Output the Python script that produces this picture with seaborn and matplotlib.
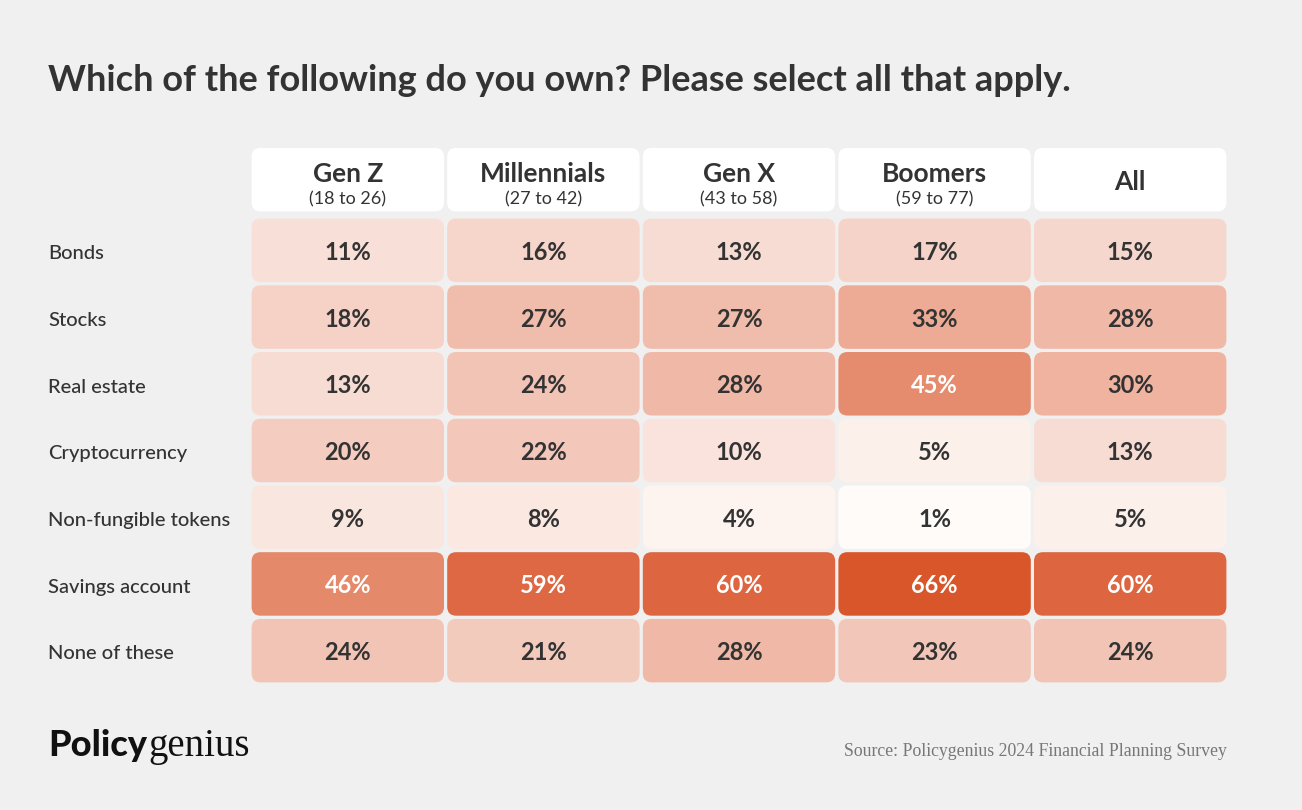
import numpy as np
import pandas as pd
import matplotlib
matplotlib.use("Agg")
import matplotlib.pyplot as plt
import seaborn as sns
from matplotlib.colors import LinearSegmentedColormap
from matplotlib.patches import FancyBboxPatch

# data
assets = ["Bonds", "Stocks", "Real estate", "Cryptocurrency",
          "Non-fungible tokens", "Savings account", "None of these"]
generations = ["Gen Z", "Millennials", "Gen X", "Boomers", "All"]
age_ranges = ["(18 to 26)", "(27 to 42)", "(43 to 58)", "(59 to 77)", ""]
gen_z = [11, 18, 13, 20, 9, 46, 24]
millennials = [16, 27, 24, 22, 8, 59, 21]
gen_x = [13, 27, 28, 10, 4, 60, 28]
boomers = [17, 33, 45, 5, 1, 66, 23]
all_adults = [15, 28, 30, 13, 5, 60, 24]

df = pd.DataFrame({"Gen Z": gen_z, "Millennials": millennials, "Gen X": gen_x,
                   "Boomers": boomers, "All": all_adults}, index=assets)

BG = "#f0f0f0"
TXT = "#333333"
W, H = 1302, 810

sns.set_theme(style="white")
plt.rcParams["font.family"] = ["Lato", "DejaVu Sans"]

cmap = LinearSegmentedColormap.from_list("pg", [
    (0.0, "#fffdfc"), (5 / 66, "#fcf0eb"), (11 / 66, "#f8e0d8"),
    (24 / 66, "#f2c4b5"), (33 / 66, "#edab95"), (45 / 66, "#e48c6d"),
    (60 / 66, "#dd6540"), (1.0, "#d8562a")])

fig = plt.figure(figsize=(W / 100, H / 100), dpi=100, facecolor=BG)
ax = fig.add_axes([250 / W, 1 - 684 / H, 978 / W, 467 / H])

sns.heatmap(df, ax=ax, cmap=cmap, vmin=0, vmax=66, cbar=False,
            xticklabels=False, yticklabels=False)
ax.set_facecolor(BG)
ax.set_xlabel("")
ax.set_ylabel("")

# swap square mesh for rounded tiles
mesh = ax.collections[0]
colors = mesh.get_facecolors()
mesh.set_visible(False)

nrows, ncols = df.shape
px_x = 978 / ncols
px_y = 467 / nrows
padx, pady = 1.6 / px_x, 1.6 / px_y
aspect = px_x / px_y
r = 9 / px_x

def tile(x, y, color):
    p = FancyBboxPatch((x + padx, y + pady), 1 - 2 * padx, 1 - 2 * pady,
                       boxstyle=f"round,pad=0,rounding_size={r}",
                       mutation_aspect=aspect, facecolor=color,
                       edgecolor="none", clip_on=False)
    ax.add_patch(p)

for i in range(nrows):
    for j in range(ncols):
        tile(j, i, colors[i * ncols + j])
        v = df.iat[i, j]
        ax.text(j + 0.5, i + 0.53, f"{v}%", ha="center", va="center",
                fontsize=17, fontweight="bold",
                color="white" if v >= 45 else TXT)

# header tiles
for j, (g, a) in enumerate(zip(generations, age_ranges)):
    tile(j, -1 - 0.06, "white")
    if a:
        ax.text(j + 0.5, -0.64, g, ha="center", va="center", fontsize=19,
                fontweight="bold", color=TXT, clip_on=False)
        ax.text(j + 0.5, -0.26, a, ha="center", va="center", fontsize=13,
                color=TXT, clip_on=False)
    else:
        ax.text(j + 0.5, -0.52, g, ha="center", va="center", fontsize=19,
                fontweight="bold", color=TXT, clip_on=False)

# row labels
for i, lab in enumerate(assets):
    ax.text(-202 / px_x, i + 0.55, lab, ha="left", va="center", fontsize=14.5,
            fontweight="medium", color=TXT, clip_on=False)

for s in ax.spines.values():
    s.set_visible(False)

fig.text(48 / W, 1 - 91 / H,
         "Which of the following do you own? Please select all that apply.",
         ha="left", va="baseline", fontsize=26, fontweight="bold", color=TXT)

fig.text(1227 / W, 1 - 756 / H,
         "Source: Policygenius 2024 Financial Planning Survey",
         ha="right", va="baseline", fontsize=12.8, color="#777777",
         family=["Liberation Serif", "DejaVu Serif"])

# logo
logo1 = fig.text(48 / W, 1 - 756 / H, "Policy", ha="left", va="baseline",
                 fontsize=26, fontweight="black", color="#111111")
fig.canvas.draw()
bb = logo1.get_window_extent(fig.canvas.get_renderer())
fig.text(bb.x1 / W + 1 / W, 1 - 756 / H, "genius", ha="left", va="baseline",
         fontsize=28, color="#111111", family=["Liberation Serif", "DejaVu Serif"])

fig.savefig("out.png", dpi=100, facecolor=BG)
